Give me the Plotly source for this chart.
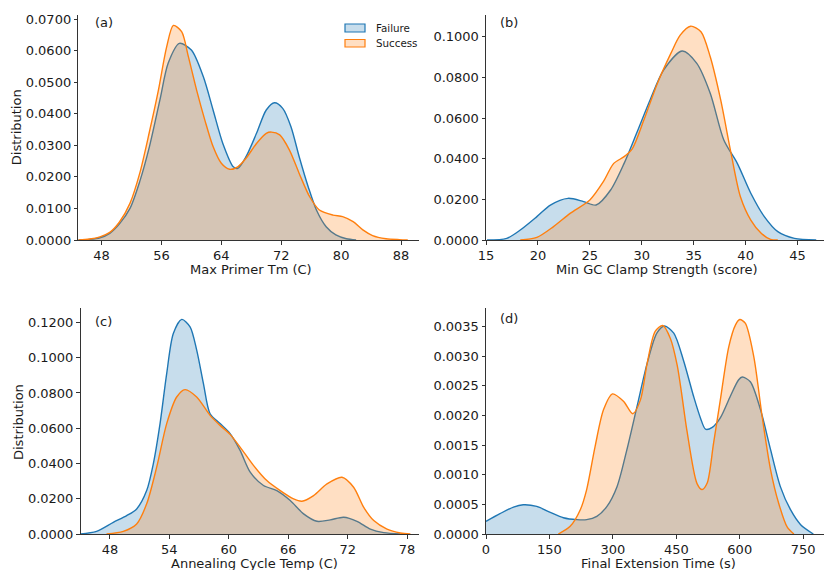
import plotly.graph_objects as go

W, H = 824, 570

# ---------------- data ----------------
# (a) Max Primer Tm (C)
a_fail_x = [44.9, 46.4, 47.8, 49.1, 50.4, 51.8, 53.1, 54.4, 55.8, 56.9, 58.4, 60.0, 61.6, 62.9, 64.2,
            65.6, 66.2, 67.3, 68.7, 70.0, 71.1, 72.2, 73.3, 74.4, 75.6, 76.7, 78.0, 79.3, 80.7, 82.0]
a_fail_y = [0.0, 0.0002, 0.0007, 0.0021, 0.0051, 0.0100, 0.0185, 0.0296, 0.0444, 0.0560, 0.0623, 0.0602,
            0.0517, 0.0412, 0.0306, 0.0232, 0.0227, 0.0264, 0.0338, 0.0412, 0.0435, 0.0417, 0.0359,
            0.0264, 0.0169, 0.0095, 0.0042, 0.0016, 0.0004, 0.0]
a_succ_x = [44.9, 46.4, 47.8, 49.1, 50.4, 51.8, 53.1, 54.4, 55.6, 56.7, 57.6, 58.7, 59.6, 60.7, 61.8,
            62.9, 64.0, 65.1, 66.2, 67.3, 68.7, 70.0, 70.7, 71.8, 73.1, 74.4, 75.8, 77.1, 78.9, 80.2,
            81.6, 82.9, 84.2, 86.0, 87.8, 88.9]
a_succ_y = [0.0, 0.0003, 0.0010, 0.0024, 0.0057, 0.0116, 0.0211, 0.0343, 0.0475, 0.0612, 0.0680, 0.0660,
            0.0581, 0.0475, 0.0380, 0.0296, 0.0243, 0.0224, 0.0232, 0.0259, 0.0306, 0.0338, 0.0342,
            0.0333, 0.0285, 0.0211, 0.0137, 0.0095, 0.0079, 0.0074, 0.0058, 0.0032, 0.0014, 0.0004,
            0.0001, 0.0]

# (b) Min GC Clamp Strength (score)
b_fail_x = [15.1, 17.0, 18.3, 19.9, 21.2, 22.9, 24.4, 25.6, 27.0, 28.3, 29.5, 30.8, 32.1, 33.9, 35.3,
            36.6, 37.9, 39.2, 40.5, 41.8, 43.1, 44.7, 46.8]
b_fail_y = [0.0, 0.0008, 0.0049, 0.0115, 0.0172, 0.0205, 0.0189, 0.0172, 0.0246, 0.0377, 0.0525, 0.0689,
            0.0836, 0.0930, 0.0869, 0.0721, 0.0492, 0.0377, 0.0230, 0.0115, 0.0041, 0.0008, 0.0]
b_succ_x = [18.3, 19.9, 21.5, 23.1, 25.0, 26.3, 27.3, 28.3, 29.1, 30.2, 31.5, 32.8, 33.7, 34.7, 35.7,
            36.6, 37.6, 38.6, 39.5, 40.5, 41.5, 42.4, 43.1]
b_succ_y = [0.0, 0.0013, 0.0066, 0.0131, 0.0197, 0.0287, 0.0377, 0.0410, 0.0450, 0.0590, 0.0770, 0.0918,
            0.1008, 0.1052, 0.1025, 0.0900, 0.0689, 0.0426, 0.0213, 0.0098, 0.0033, 0.0003, 0.0]

# (c) Annealing Cycle Temp (C)
c_fail_x = [45.03, 46.65, 48.34, 49.69, 50.70, 51.71, 52.38, 53.06, 53.73, 54.40, 55.25, 56.09, 56.76,
            57.44, 58.11, 59.12, 60.13, 61.14, 62.16, 63.50, 64.85, 66.20, 67.55, 68.90, 70.24, 71.59,
            72.94, 74.29, 75.64, 77.33]
c_fail_y = [0.0, 0.0015, 0.0066, 0.0104, 0.0142, 0.0246, 0.0398, 0.0626, 0.0910, 0.1137, 0.1217, 0.1175,
            0.1043, 0.0853, 0.0682, 0.0626, 0.0569, 0.0474, 0.0351, 0.0275, 0.0246, 0.0190, 0.0114,
            0.0072, 0.0080, 0.0095, 0.0072, 0.0028, 0.0008, 0.0]
c_succ_x = [47.66, 49.35, 50.70, 51.71, 52.72, 53.73, 54.74, 55.58, 56.76, 58.11, 59.12, 60.13, 61.14,
            62.49, 63.84, 65.19, 66.54, 67.38, 68.56, 69.91, 71.42, 72.60, 73.61, 74.63, 75.97, 77.32,
            78.33]
c_succ_y = [0.0, 0.0015, 0.0057, 0.0171, 0.0379, 0.0626, 0.0777, 0.0819, 0.0777, 0.0673, 0.0616, 0.0565,
            0.0493, 0.0389, 0.0303, 0.0246, 0.0199, 0.0186, 0.0218, 0.0284, 0.0322, 0.0265, 0.0152,
            0.0076, 0.0028, 0.0006, 0.0]

# (d) Final Extension Time (s)
d_fail_x = [0, 33, 65, 88, 120, 152, 183, 215, 238, 262, 286, 310, 333, 357, 381, 404, 422, 444, 467,
            491, 507, 519, 535, 554, 578, 597, 606, 625, 649, 673, 696, 720, 744, 774]
d_fail_y = [0.000213, 0.000343, 0.000455, 0.000494, 0.000466, 0.000365, 0.000275, 0.000242, 0.000242,
            0.000298, 0.000466, 0.000803, 0.00142, 0.00215, 0.00288, 0.00339, 0.00351, 0.00339, 0.00293,
            0.00232, 0.00196, 0.00177, 0.00180, 0.00196, 0.00233, 0.00260, 0.00265, 0.00257, 0.00210,
            0.00142, 0.00080, 0.00041, 0.000157, 0.0]
d_succ_x = [171, 199, 223, 238, 258, 278, 299, 325, 347, 365, 381, 400, 418, 436, 452, 463, 475, 499,
            511, 523, 538, 554, 574, 590, 600, 613, 633, 653, 673, 692, 712, 728]
d_succ_y = [0.0, 0.00013, 0.00041, 0.00075, 0.00148, 0.00210, 0.002365, 0.00224, 0.00203, 0.00226,
            0.00288, 0.00342, 0.00352, 0.00330, 0.00285, 0.00235, 0.00175, 0.00085, 0.00075, 0.00086,
            0.00153, 0.00226, 0.00316, 0.00353, 0.00362, 0.00356, 0.00300, 0.00198, 0.00108, 0.00052,
            0.00012, 0.0]

panel_labels = ["(a)", "(b)", "(c)", "(d)"]
x_titles = ["Max Primer Tm (C)", "Min GC Clamp Strength (score)",
            "Annealing Cycle Temp (C)", "Final Extension Time (s)"]
y_title = "Distribution"
series_names = ["Failure", "Success"]

# ---------------- styling ----------------
BLUE = "#1f77b4"
ORANGE = "#ff7f0e"
BLUE_F = "rgba(31,119,180,0.25)"
ORANGE_F = "rgba(255,127,14,0.25)"
TXT = "#1a1a1a"
AX = "#333333"
FONT = "DejaVu Sans"

def px(x):
    return x / W

def py(y):
    return 1 - y / H

# panel geometry in pixels: (left, right, top, bottom)
geom = [(78.3, 419, 15, 240), (486, 823.5, 15, 240),
        (80.5, 419, 308.3, 534), (486, 823.5, 308.3, 534)]
xranges = [[44.9, 90.4], [15, 47.5], [45.03, 79.2], [0, 798]]
yranges = [[0, 0.0713], [0, 0.1107], [0, 0.128], [0, 0.00381]]
xdtick = [8, 5, 6, 150]
xtick0 = [0, 0, 0, 0]
ydtick = [0.01, 0.02, 0.02, 0.0005]

data = [(a_fail_x, a_fail_y, a_succ_x, a_succ_y),
        (b_fail_x, b_fail_y, b_succ_x, b_succ_y),
        (c_fail_x, c_fail_y, c_succ_x, c_succ_y),
        (d_fail_x, d_fail_y, d_succ_x, d_succ_y)]

fig = go.Figure()
layout = dict(width=W, height=H, margin=dict(l=0, r=0, t=0, b=0),
              paper_bgcolor="white", plot_bgcolor="white", showlegend=False,
              font=dict(family=FONT, size=13, color=TXT))

for i, (fx, fy, sx, sy) in enumerate(data):
    n = "" if i == 0 else str(i + 1)
    fig.add_trace(go.Scatter(x=fx, y=fy, mode="lines", name=series_names[0],
                             line=dict(color=BLUE, width=1.4, shape="spline", smoothing=0.8),
                             fill="tozeroy", fillcolor=BLUE_F, xaxis="x" + n, yaxis="y" + n))
    fig.add_trace(go.Scatter(x=sx, y=sy, mode="lines", name=series_names[1],
                             line=dict(color=ORANGE, width=1.4, shape="spline", smoothing=0.8),
                             fill="tozeroy", fillcolor=ORANGE_F, xaxis="x" + n, yaxis="y" + n))
    l, r, t, b = geom[i]
    common = dict(showgrid=False, zeroline=False, showline=True, linecolor=AX, linewidth=1,
                  ticks="outside", ticklen=3.5, tickwidth=1, tickcolor=AX, automargin=False,
                  tickfont=dict(family=FONT, size=13, color=TXT))
    layout["xaxis" + n] = dict(domain=[px(l), px(r)], range=xranges[i], anchor="y" + n,
                               tickmode="linear", tick0=xtick0[i], dtick=xdtick[i], **common)
    layout["yaxis" + n] = dict(domain=[py(b), py(t)], range=yranges[i], anchor="x" + n,
                               tickmode="linear", tick0=0, dtick=ydtick[i], tickformat=".4f",
                               **common)

annotations = []
# panel labels
lab_pos = [(92.5, 22.7), (498.3, 22.7), (93.3, 321.7), (498.3, 318.3)]
for lab, (x, y) in zip(panel_labels, lab_pos):
    annotations.append(dict(text=lab, x=px(x), y=py(y), xref="paper", yref="paper",
                            xanchor="left", yanchor="middle", showarrow=False,
                            font=dict(family=FONT, size=13, color=TXT)))
# x titles
xt_pos = [(251, 269), (657, 269), (254.5, 563.5), (658, 563.5)]
for t, (x, y) in zip(x_titles, xt_pos):
    annotations.append(dict(text=t, x=px(x), y=py(y), xref="paper", yref="paper",
                            xanchor="center", yanchor="middle", showarrow=False,
                            font=dict(family=FONT, size=13, color=TXT)))
# y titles
for (x, y) in [(16.7, 127.5), (18.3, 421.7)]:
    annotations.append(dict(text=y_title, x=px(x), y=py(y), xref="paper", yref="paper",
                            xanchor="center", yanchor="middle", showarrow=False, textangle=-90,
                            font=dict(family=FONT, size=13, color=TXT)))

# manual legend in panel (a)
shapes = []
leg = [(series_names[0], BLUE, BLUE_F, 24, 32, 28), (series_names[1], ORANGE, ORANGE_F, 39.5, 47, 43.3)]
for name, lc, fc, y0, y1, yc in leg:
    shapes.append(dict(type="rect", xref="paper", yref="paper", x0=px(345), x1=px(365),
                       y0=py(y1), y1=py(y0), line=dict(color=lc, width=1.2), fillcolor=fc))
    annotations.append(dict(text=name, x=px(373.5), y=py(yc), xref="paper", yref="paper",
                            xanchor="left", yanchor="middle", showarrow=False,
                            font=dict(family=FONT, size=10.3, color=TXT)))

layout["annotations"] = annotations
layout["shapes"] = shapes
fig.update_layout(**layout)
fig.write_html("out.html", config={"displayModeBar": False},
               post_script="document.body.style.margin='0px';document.body.style.overflow='hidden';")
